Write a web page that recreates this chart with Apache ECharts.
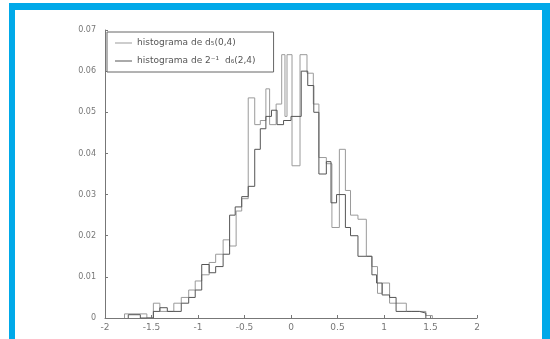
<!DOCTYPE html>
<html>
<head>
<meta charset="utf-8">
<script src="https://cdn.jsdelivr.net/npm/echarts@6/dist/echarts.min.js"></script>
<style>
html,body{margin:0;padding:0;background:#fff;width:550px;height:339px;overflow:hidden;}
#frame{position:absolute;left:9px;top:3px;width:527px;height:340px;border-left:6px solid #00a9e9;border-top:7px solid #00a9e9;border-right:8px solid #00a9e9;background:#fff;}
#chart{position:absolute;left:0;top:0;width:550px;height:339px;}
</style>
</head>
<body>
<div id="frame"></div>
<div id="chart"></div>
<script>
// x tick labels and y tick labels
const xTicks = ["-2","-1.5","-1","-0.5","0","0.5","1","1.5","2"];
const yTicks = ["0","0.01","0.02","0.03","0.04","0.05","0.06","0.07"];
const seriesNames = ["histograma de d\u2085(0,4)", "histograma de 2\u207B\u00B9  d\u2086(2,4)"];

// Series 1 (lighter): bin edges and heights
const edgesA = [-1.79,-1.55,-1.48,-1.41,-1.33,-1.26,-1.18,-1.10,-1.03,-0.96,-0.88,-0.81,-0.73,-0.66,-0.59,-0.53,-0.46,-0.39,-0.33,-0.27,-0.23,-0.16,-0.10,-0.065,-0.043,0.011,0.097,0.172,0.24,0.30,0.38,0.44,0.52,0.585,0.64,0.72,0.81,0.87,0.93,0.98,1.06,1.13,1.24,1.30,1.38,1.45,1.52];
const heightsA = [0.001,0,0.0036,0.0016,0.0016,0.0036,0.005,0.0068,0.009,0.0105,0.0135,0.0155,0.019,0.0175,0.026,0.029,0.0535,0.047,0.048,0.0557,0.047,0.052,0.064,0.049,0.064,0.037,0.064,0.0595,0.052,0.039,0.0375,0.022,0.041,0.031,0.025,0.024,0.015,0.0125,0.006,0.0085,0.0036,0.0036,0.0016,0.0016,0.0016,0.0006];

// Series 2 (darker): bin edges and heights
const edgesB = [-1.75,-1.62,-1.48,-1.41,-1.33,-1.26,-1.18,-1.10,-1.03,-0.96,-0.88,-0.81,-0.73,-0.66,-0.60,-0.53,-0.46,-0.39,-0.33,-0.27,-0.21,-0.15,-0.08,0.0,0.11,0.18,0.245,0.30,0.38,0.43,0.49,0.585,0.64,0.72,0.81,0.87,0.92,0.98,1.06,1.13,1.24,1.30,1.38,1.45];
const heightsB = [0.0008,0,0.0016,0.0025,0.0016,0.0016,0.0036,0.005,0.0068,0.013,0.011,0.0125,0.0155,0.025,0.027,0.0295,0.032,0.041,0.046,0.049,0.0505,0.047,0.048,0.049,0.060,0.0565,0.050,0.035,0.038,0.028,0.030,0.022,0.020,0.015,0.015,0.0105,0.0085,0.0056,0.005,0.0016,0.0016,0.0016,0.0012];

function stairs(edges, heights){
  const d = [[edges[0], 0]];
  for (let i = 0; i < heights.length; i++) d.push([edges[i], heights[i]]);
  d.push([edges[edges.length-1], 0]);
  return d;
}

const chart = echarts.init(document.getElementById('chart'), null, {renderer:'canvas'});
const font = 'DejaVu Sans, Verdana, sans-serif';
chart.setOption({
  animation:false,
  backgroundColor:'transparent',
  grid:{left:105, right:73, top:30, bottom:21, containLabel:false},
  legend:{
    left:107, top:32, orient:'vertical',
    data: seriesNames,
    icon:'rect',
    itemWidth:17, itemHeight:1, itemGap:6,
    padding:[5,18,5,8],
    borderColor:'#666', borderWidth:1, borderRadius:0,
    backgroundColor:'#fff',
    textStyle:{fontFamily:font, fontSize:9, color:'#555', lineHeight:12}
  },
  xAxis:{
    type:'value', min:-2, max:2, interval:0.5,
    axisLine:{onZero:false, lineStyle:{color:'#777', width:1}},
    axisTick:{inside:true, length:3, lineStyle:{color:'#777'}},
    splitLine:{show:false},
    axisLabel:{fontFamily:font, fontSize:9, color:'#777', margin:5,
      formatter:function(v){ const i = Math.round((v+2)/0.5); return xTicks[i]; }}
  },
  yAxis:{
    type:'value', min:0, max:0.07, interval:0.01,
    axisLine:{show:true, onZero:false, lineStyle:{color:'#777', width:1}},
    axisTick:{show:true, inside:true, length:3, lineStyle:{color:'#777'}},
    splitLine:{show:false},
    axisLabel:{fontFamily:font, fontSize:8, color:'#777', margin:9,
      formatter:function(v){ const i = Math.round(v/0.01); return yTicks[i]; }}
  },
  series:[
    {name:seriesNames[0], type:'line', step:'end', symbol:'none', data:stairs(edgesA, heightsA),
     lineStyle:{color:'#9a9a9a', width:1}, itemStyle:{color:'#9a9a9a'}},
    {name:seriesNames[1], type:'line', step:'end', symbol:'none', data:stairs(edgesB, heightsB),
     lineStyle:{color:'#555', width:1}, itemStyle:{color:'#555'}}
  ]
});
</script>
</body>
</html>
